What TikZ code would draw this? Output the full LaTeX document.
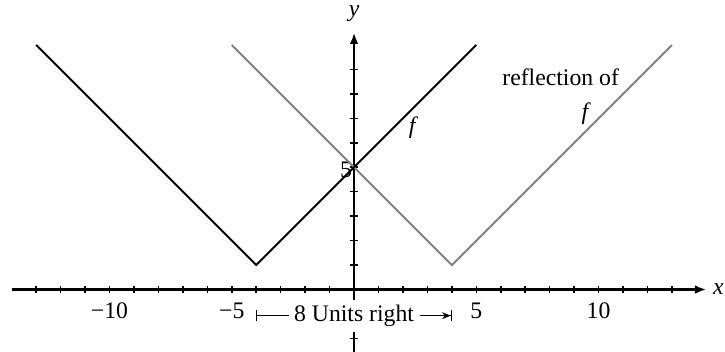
\documentclass[tikz,border=0pt]{standalone}
\usepackage{fontspec}
\setmainfont{Liberation Serif}
\usepackage{tikz}
\usetikzlibrary{arrows.meta}
\definecolor{reflGray}{HTML}{808080}

\begin{document}
\begin{tikzpicture}[x=0.5cm, y=0.5cm, font=\fontsize{13.8}{16}\selectfont,
    axis/.style={line width=1.2pt,-{Latex[length=6.5pt,width=5pt]}},
    tickmark/.style={line width=0.9pt},
    graph/.style={line width=1.1pt}]
    \useasboundingbox (-14.48,-2.54) rectangle (15.17,11.84);

    % axes
    \coordinate (xl) at (-14,0);
    \coordinate (xr) at (14.4,0);
    \coordinate (yb) at (0,-2.6);
    \coordinate (yt) at (0,10.5);
    \draw[axis] (xl) -- (xr);
    \draw[axis] (yb) -- (yt);
    \foreach \i in {-13,...,-1,1,2,...,13}
      \draw[tickmark] (\i,-0.16) -- (\i,0.16);
    \foreach \j in {-2,-1,1,2,...,9}
      \draw[tickmark] (-0.16,\j) -- (0.16,\j);
    \node (xlab) at (14.9,0) {\textit{x}};
    \node (ylab) at (0,11.27) {\textit{y}};
    \foreach \v/\t in {-10/−10,-5/−5,5/5,10/10}
      \node (lx\v) at (\v,-0.87) {\t};
    \node[anchor=east,inner sep=1pt] (ly5) at (0,4.9) {5};

    % f and its reflection
    \coordinate (fa) at (-13,10);
    \coordinate (fv) at (-4,1);
    \coordinate (fb) at (5,10);
    \coordinate (ga) at (-5,10);
    \coordinate (gv) at (4,1);
    \coordinate (gb) at (13,10);
    \draw[graph,reflGray] (ga) -- (gv) -- (gb);
    \draw[graph] (fa) -- (fv) -- (fb);
    \node (flab) at (2.43,6.6) {\textit{f}};
    \node (refl) at (8.45,8.7) {reflection of};
    \node (glab) at (9.5,7.2) {\textit{f}};

    % shift marker
    \coordinate (sa) at (-4,-1.07);
    \coordinate (sb) at (4,-1.07);
    \node[fill=white,inner sep=3pt] (shift) at (0,-1.07) {8 Units right};
    \draw[line width=0.7pt,{Bar[width=6.5pt]}-] (sa) -- (shift.west);
    \draw[line width=0.7pt,-{Stealth[length=5pt,width=4pt] Bar[width=6.5pt]}] (shift.east) -- (sb);
\end{tikzpicture}
\end{document}
